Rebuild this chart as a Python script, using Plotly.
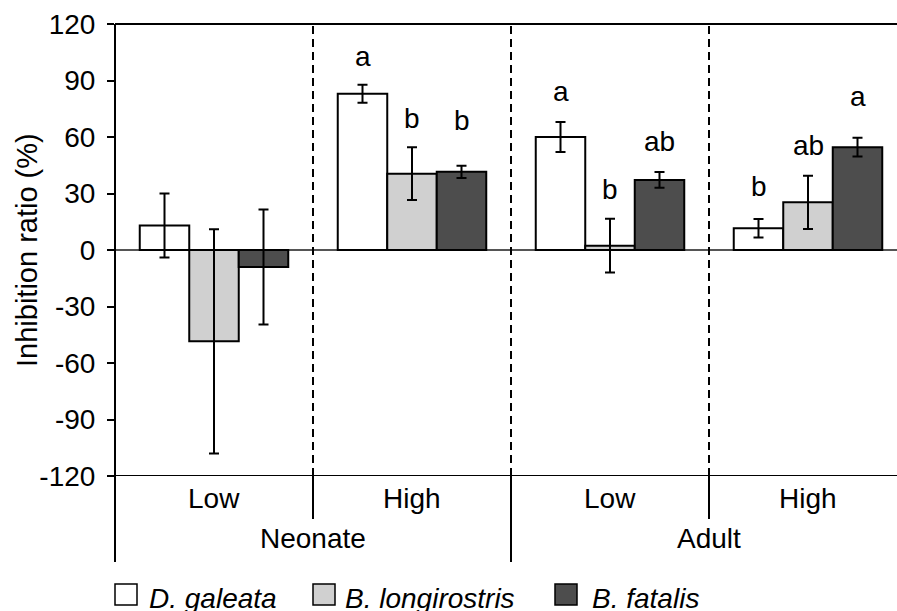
import plotly.graph_objects as go

# Treatment groups along the x axis
stages = ["Neonate", "Adult"]
levels = ["Low", "High", "Low", "High"]

# Inhibition ratio (%) per species, mean and error
species = ["D. galeata", "B. longirostris", "B. fatalis"]
d_galeata = [13.0, 83.0, 60.0, 11.5]
d_galeata_err = [17.0, 4.8, 8.0, 4.9]
b_longirostris = [-48.5, 40.5, 2.3, 25.3]
b_longirostris_err = [59.5, 14.0, 14.3, 14.1]
b_fatalis = [-9.0, 41.5, 37.2, 54.6]
b_fatalis_err = [30.5, 3.3, 4.2, 5.0]

# Y tick values and their labels (plain hyphen for negatives)
y_ticks = [-120, -90, -60, -30, 0, 30, 60, 90, 120]
y_tick_labels = ["-120", "-90", "-60", "-30", "0", "30", "60", "90", "120"]

# Significance letters and their heights (%)
d_galeata_letters = ["", "a", "a", "b"]
b_longirostris_letters = ["", "b", "b", "ab"]
b_fatalis_letters = ["", "b", "ab", "a"]
d_galeata_letter_y = [None, 102.5, 84.0, 33.5]
b_longirostris_letter_y = [None, 70.0, 32.0, 55.5]
b_fatalis_letter_y = [None, 68.5, 57.5, 81.5]

fills = ["#ffffff", "#d0d0d0", "#4d4d4d"]
means = [d_galeata, b_longirostris, b_fatalis]
errs = [d_galeata_err, b_longirostris_err, b_fatalis_err]
letters = [d_galeata_letters, b_longirostris_letters, b_fatalis_letters]
letter_ys = [d_galeata_letter_y, b_longirostris_letter_y, b_fatalis_letter_y]

FONT = "Liberation Sans, Arial, sans-serif"
FS = 28
W, H = 897, 611
M_L, M_R, M_T, M_B = 115, 0, 24, 135
PLOT_W = W - M_L - M_R
PLOT_H = H - M_T - M_B
GROUP_PX = 198.0

group_pos = [i + 0.5 for i in range(len(levels))]
bar_w = 0.25


def py(pixel_y):
    """Pixel row -> paper y."""
    return (H - M_B - pixel_y) / PLOT_H


def px(pixel_x):
    """Pixel column -> paper x."""
    return (pixel_x - M_L) / PLOT_W


fig = go.Figure()
for k, name in enumerate(species):
    fig.add_trace(go.Bar(
        name=name,
        x=group_pos,
        y=means[k],
        marker=dict(color=fills[k], line=dict(color="black", width=2)),
        error_y=dict(type="data", array=errs[k], visible=True,
                     color="black", thickness=2, width=5),
        showlegend=False,
    ))

annotations = []
# significance letters above bars
for k in range(len(species)):
    for i in range(len(levels)):
        if letters[k][i]:
            annotations.append(dict(
                x=group_pos[i] + (k - 1) * bar_w, y=letter_ys[k][i],
                xref="x", yref="y", text=letters[k][i], showarrow=False,
                font=dict(family=FONT, size=FS, color="black"),
                xanchor="center", yanchor="middle"))

# level labels and stage labels under the axis
for i, lv in enumerate(levels):
    annotations.append(dict(
        x=group_pos[i], y=py(498), xref="x", yref="paper", text=lv,
        showarrow=False, font=dict(family=FONT, size=FS, color="black"),
        xanchor="center", yanchor="middle"))
for s, st in enumerate(stages):
    annotations.append(dict(
        x=(group_pos[2 * s] + group_pos[2 * s + 1]) / 2, y=py(538),
        xref="x", yref="paper", text=st, showarrow=False,
        font=dict(family=FONT, size=FS, color="black"),
        xanchor="center", yanchor="middle"))

# y axis title
annotations.append(dict(
    x=px(27), y=0.5, xref="paper", yref="paper", text="Inhibition ratio (%)",
    textangle=-90, showarrow=False,
    font=dict(family=FONT, size=29, color="black"),
    xanchor="center", yanchor="middle"))

shapes = []
line = dict(color="black", width=2)
# frame: top, bottom (at -120), left axis extended under the labels
shapes.append(dict(type="line", xref="paper", yref="paper", x0=0, x1=1, y0=1, y1=1, line=line))
shapes.append(dict(type="line", xref="paper", yref="y", x0=0, x1=1, y0=-120, y1=-120, line=line))
shapes.append(dict(type="line", xref="paper", yref="paper", x0=0, x1=0, y0=1, y1=py(562), line=line))
# dashed separators between treatment groups
for b in range(1, len(levels)):
    shapes.append(dict(type="line", xref="x", yref="y", x0=b, x1=b, y0=-120, y1=120,
                       line=dict(color="black", width=2, dash="8px,5px")))
# divider ticks below the axis
for b in range(1, len(levels)):
    bottom = py(562) if b % 2 == 0 else py(519)
    shapes.append(dict(type="line", xref="x", yref="paper", x0=b, x1=b, y0=0, y1=bottom, line=line))

# legend drawn as boxes with italic labels
leg_box_x = [115, 313, 555]
leg_text_x = [147, 343, 590]
for k, name in enumerate(species):
    shapes.append(dict(type="rect", xref="paper", yref="paper",
                       x0=px(leg_box_x[k]), x1=px(leg_box_x[k] + 22),
                       y0=py(605), y1=py(584),
                       fillcolor=fills[k], line=dict(color="black", width=1.5)))
    annotations.append(dict(
        x=px(leg_text_x[k]), y=py(598), xref="paper", yref="paper",
        text="<i>%s</i>" % name, showarrow=False,
        font=dict(family=FONT, size=FS, color="black"),
        xanchor="left", yanchor="middle"))

fig.update_layout(
    width=W, height=H,
    margin=dict(l=M_L, r=M_R, t=M_T, b=M_B, pad=0),
    paper_bgcolor="white", plot_bgcolor="white",
    barmode="group", bargap=0.25, bargroupgap=0,
    font=dict(family=FONT, size=FS, color="black"),
    xaxis=dict(range=[0, PLOT_W / GROUP_PX], showticklabels=False, ticks="",
               showgrid=False, zeroline=False, showline=False),
    yaxis=dict(range=[-120, 120], tickvals=y_ticks, ticktext=y_tick_labels,
               ticks="outside", ticklen=7, tickwidth=2, tickcolor="black",
               ticklabelstandoff=6,
               tickfont=dict(family=FONT, size=FS, color="black"),
               showgrid=False, showline=False,
               zeroline=True, zerolinecolor="#555555", zerolinewidth=1.5),
    shapes=shapes, annotations=annotations,
)

fig.write_html("out.html")
